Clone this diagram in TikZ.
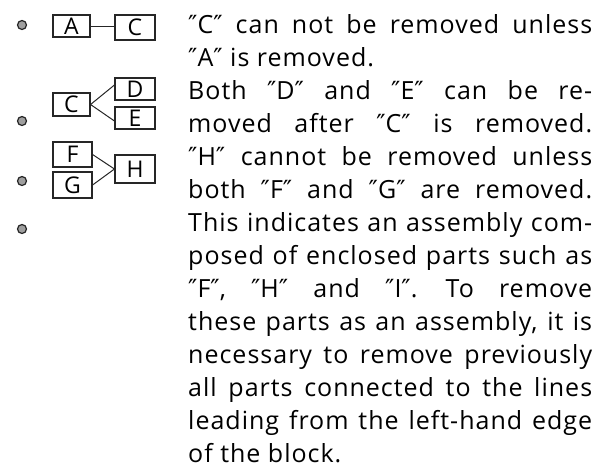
\documentclass[tikz,border=0pt]{standalone}
\usepackage{fontspec}
\setmainfont{Open Sans}[LetterSpace=4]
\newfontfamily\boxfont{Open Sans}
\newfontfamily\qfont{DejaVu Sans}
\newcommand\dq{{\qfont ″}}
\newcommand\spreadline[1]{\makebox[404pt][s]{#1}}
\begin{document}
\begin{tikzpicture}[x=1pt,y=-1pt,
  part/.style={draw=black!85, line width=1.1pt, inner sep=0pt, minimum width=39pt, minimum height=24pt,
    font=\boxfont\fontsize{23}{23}\selectfont, text=black},
  link/.style={draw=black!85, line width=1pt},
  bul/.style={circle, fill=gray!75, draw=black!85, line width=1.2pt, minimum size=9pt, inner sep=0pt},
  txt/.style={anchor=base west, inner sep=0pt, text=black, font=\fontsize{25}{25}\selectfont}]
\useasboundingbox (0,0) rectangle (598,475);
% bullets
\node[bul] (b1) at (22,25) {};
\node[bul] (b2) at (22,121) {};
\node[bul] (b3) at (22,181) {};
\node[bul] (b4) at (22,229) {};
% parts
\node[part, minimum width=37pt, minimum height=22pt] (A) at (71.5,26) {A};
\node[part, minimum width=40pt, minimum height=25pt] (C1) at (135,27.5) {C};
\node[part, minimum width=37pt, minimum height=23pt] (C2) at (71.5,104.5) {C};
\node[part, minimum width=40pt, minimum height=22pt] (D) at (135,89) {D};
\node[part, minimum width=40pt, minimum height=22pt] (E) at (135,118) {E};
\node[part, minimum width=39pt, minimum height=25pt] (F) at (72.5,154.5) {F};
\node[part, minimum width=39pt, minimum height=26pt] (G) at (72.5,185) {G};
\node[part, minimum width=40pt, minimum height=28pt] (H) at (135,169) {H};
% connectors
\draw[link] (A.east) -- (A.east -| C1.west);
\draw[link] (C2.east) -- ([yshift=4pt]D.west);
\draw[link] (C2.east) -- ([yshift=-3pt]E.west);
\draw[link] (F.east) -- (H.west);
\draw[link] (G.east) -- (H.west);
% text
\node[txt] (l1) at (188,33) {\spreadline{\dq C\dq\ can not be removed unless}};
\node[txt] (l2) at (188,66) {\dq A\dq\ is removed.};
\node[txt] (l3) at (188,99) {\spreadline{Both \dq D\dq\ and \dq E\dq\ can be re-}};
\node[txt] (l4) at (188,132) {\spreadline{moved after \dq C\dq\ is removed.}};
\node[txt] (l5) at (188,165) {\spreadline{\dq H\dq\ cannot be removed unless}};
\node[txt] (l6) at (188,198) {\spreadline{both \dq F\dq\ and \dq G\dq\ are removed.}};
\node[txt] (l7) at (188,231) {\spreadline{This indicates an assembly com-}};
\node[txt] (l8) at (188,264) {\spreadline{posed of enclosed parts such as}};
\node[txt] (l9) at (188,297) {\frenchspacing\spreadline{\dq F\dq, \dq H\dq\ and \dq I\dq.\ \hspace{3pt}To remove}};
\node[txt] (l10) at (188,330) {\spreadline{these parts as an assembly, it is}};
\node[txt] (l11) at (188,363) {\spreadline{necessary to remove previously}};
\node[txt] (l12) at (188,396) {\spreadline{all parts connected to the lines}};
\node[txt] (l13) at (188,429) {\spreadline{leading from the left-hand edge}};
\node[txt] (l14) at (188,462) {of the block.};
\end{tikzpicture}
\end{document}
